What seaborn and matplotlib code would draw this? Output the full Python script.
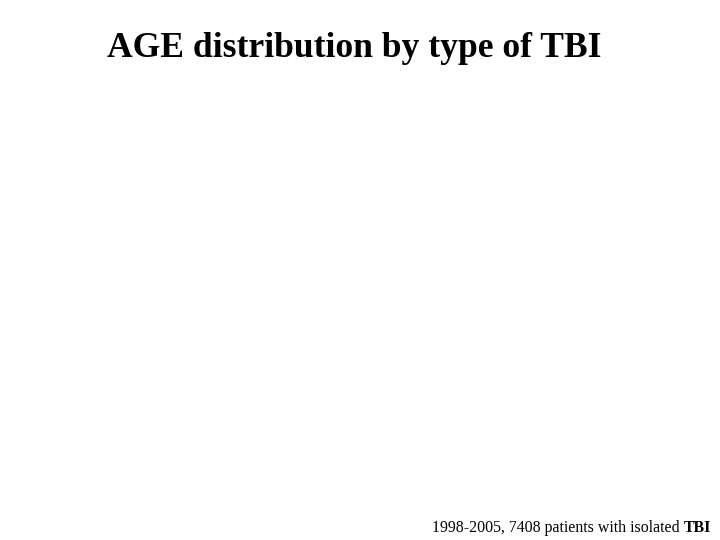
import matplotlib
matplotlib.use("Agg")
import matplotlib.pyplot as plt
import seaborn as sns

# Text content of the slide (the chart area itself is empty in the reference)
title_text = "AGE distribution by type of TBI"
footer_plain = "1998-2005, 7408 patients with isolated "
footer_bold = "TBI"

sns.set_theme(style="white")
plt.rcParams["font.family"] = ["Liberation Serif", "DejaVu Serif"]

fig = plt.figure(figsize=(7.2, 5.4), dpi=100)
fig.patch.set_facecolor("white")
ax = fig.add_axes([0, 0, 1, 1])
ax.set_axis_off()

fig.text(0.4925, 1 - 57 / 540, title_text, ha="center", va="baseline",
         fontsize=25.6, fontweight="bold", color="black")

fs = 11.4
tbi = fig.text(0.988, 8.5 / 540, footer_bold, ha="right", va="baseline",
               fontsize=fs, fontweight="bold", color="black")
ax.annotate(footer_plain, xy=(0, 0), xycoords=tbi, ha="right", va="bottom",
            fontsize=fs, color="black", annotation_clip=False)

fig.savefig("out.png", dpi=100, facecolor="white")
